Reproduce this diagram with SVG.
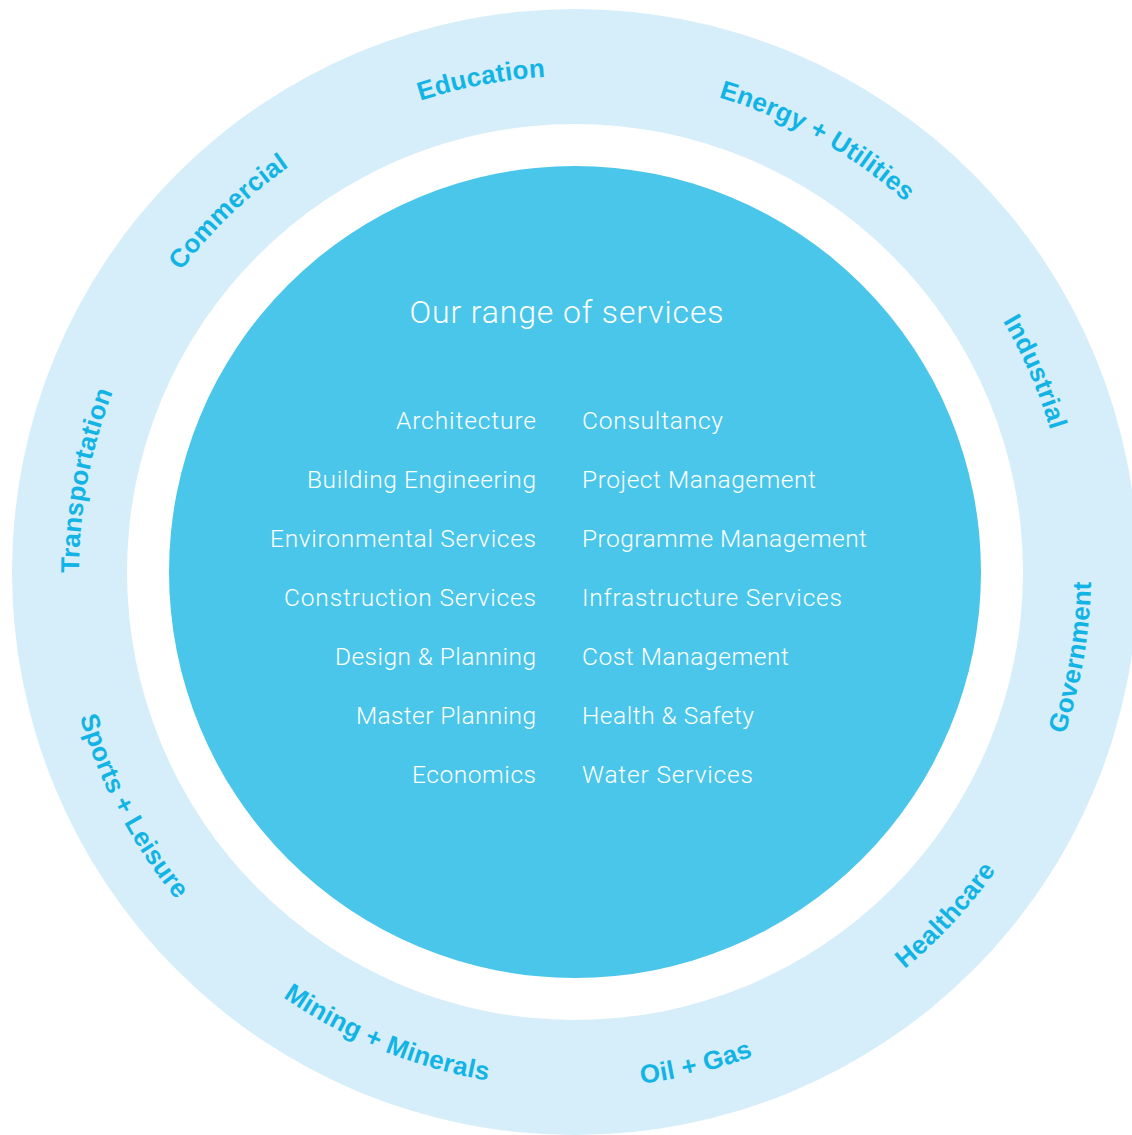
<svg xmlns="http://www.w3.org/2000/svg" xmlns:xlink="http://www.w3.org/1999/xlink" width="1132" height="1135" viewBox="0 0 1132 1135">
<style>
.ring{fill:#d6eef9}
.gap{fill:#ffffff}
.disc{fill:#4ac6eb}
.lbl{font-family:"Liberation Sans",Arial,sans-serif;font-weight:bold;font-size:26px;letter-spacing:0.25px;fill:#12b4e6}
.title{font-family:Roboto,"Liberation Sans",sans-serif;font-weight:300;font-size:32px;fill:#ffffff}
.svc{font-family:Roboto,"Liberation Sans",sans-serif;font-weight:300;font-size:24.5px;fill:#ffffff}
.l{text-anchor:end}
.r{text-anchor:start}
</style>
<defs>
<path id="cw" d="M 575 1068 A 496 496 0 0 1 575 76 A 496 496 0 0 1 575 1068"/>
<path id="ccw" d="M 575 56 A 516 516 0 0 0 575 1088 A 516 516 0 0 0 575 56"/>
</defs>
<rect width="1132" height="1135" fill="#ffffff"/>
<g id="rings">
<circle class="ring" cx="575" cy="572" r="563"/>
<circle class="gap" cx="575" cy="572" r="448"/>
</g>
<g id="sectors">
<g id="education"><text class="lbl" transform="rotate(-10.8 575 572)"><textPath xlink:href="#cw" href="#cw" startOffset="50%" text-anchor="middle">Education</textPath></text></g>
<g id="energy-utilities"><text class="lbl" transform="rotate(29.3 575 572)"><textPath xlink:href="#cw" href="#cw" startOffset="50%" text-anchor="middle">Energy + Utilities</textPath></text></g>
<g id="industrial"><text class="lbl" transform="rotate(66.5 575 572)"><textPath xlink:href="#cw" href="#cw" startOffset="50%" text-anchor="middle">Industrial</textPath></text></g>
<g id="government"><text class="lbl" transform="rotate(-80.3 575 572)"><textPath xlink:href="#ccw" href="#ccw" startOffset="50%" text-anchor="middle">Government</textPath></text></g>
<g id="healthcare"><text class="lbl" transform="rotate(-47.2 575 572)"><textPath xlink:href="#ccw" href="#ccw" startOffset="50%" text-anchor="middle">Healthcare</textPath></text></g>
<g id="oil-gas"><text class="lbl" transform="rotate(-13.8 575 572)"><textPath xlink:href="#ccw" href="#ccw" startOffset="50%" text-anchor="middle">Oil + Gas</textPath></text></g>
<g id="mining-minerals"><text class="lbl" transform="rotate(22.1 575 572)"><textPath xlink:href="#ccw" href="#ccw" startOffset="50%" text-anchor="middle">Mining + Minerals</textPath></text></g>
<g id="sports-leisure"><text class="lbl" transform="rotate(62.1 575 572)"><textPath xlink:href="#ccw" href="#ccw" startOffset="50%" text-anchor="middle">Sports + Leisure</textPath></text></g>
<g id="transportation"><text class="lbl" transform="rotate(-79.4 575 572)"><textPath xlink:href="#cw" href="#cw" startOffset="50%" text-anchor="middle">Transportation</textPath></text></g>
<g id="commercial"><text class="lbl" transform="rotate(-43.9 575 572)"><textPath xlink:href="#cw" href="#cw" startOffset="50%" text-anchor="middle">Commercial</textPath></text></g>
</g>
<g id="services">
<circle class="disc" cx="575" cy="572" r="406"/>
<text class="title" x="566.5" y="323" text-anchor="middle" textLength="314">Our range of services</text>
<text class="svc l" x="536" y="429" textLength="140">Architecture</text>
<text class="svc l" x="536" y="488" textLength="229">Building Engineering</text>
<text class="svc l" x="536" y="547" textLength="266">Environmental Services</text>
<text class="svc l" x="536" y="606" textLength="252">Construction Services</text>
<text class="svc l" x="536" y="665" textLength="201">Design &amp; Planning</text>
<text class="svc l" x="536" y="724" textLength="180">Master Planning</text>
<text class="svc l" x="536" y="783" textLength="124">Economics</text>
<text class="svc r" x="582" y="429" textLength="141">Consultancy</text>
<text class="svc r" x="582" y="488" textLength="234">Project Management</text>
<text class="svc r" x="582" y="547" textLength="285">Programme Management</text>
<text class="svc r" x="582" y="606" textLength="260">Infrastructure Services</text>
<text class="svc r" x="582" y="665" textLength="207">Cost Management</text>
<text class="svc r" x="582" y="724" textLength="172">Health &amp; Safety</text>
<text class="svc r" x="582" y="783" textLength="171">Water Services</text>
</g>
</svg>
